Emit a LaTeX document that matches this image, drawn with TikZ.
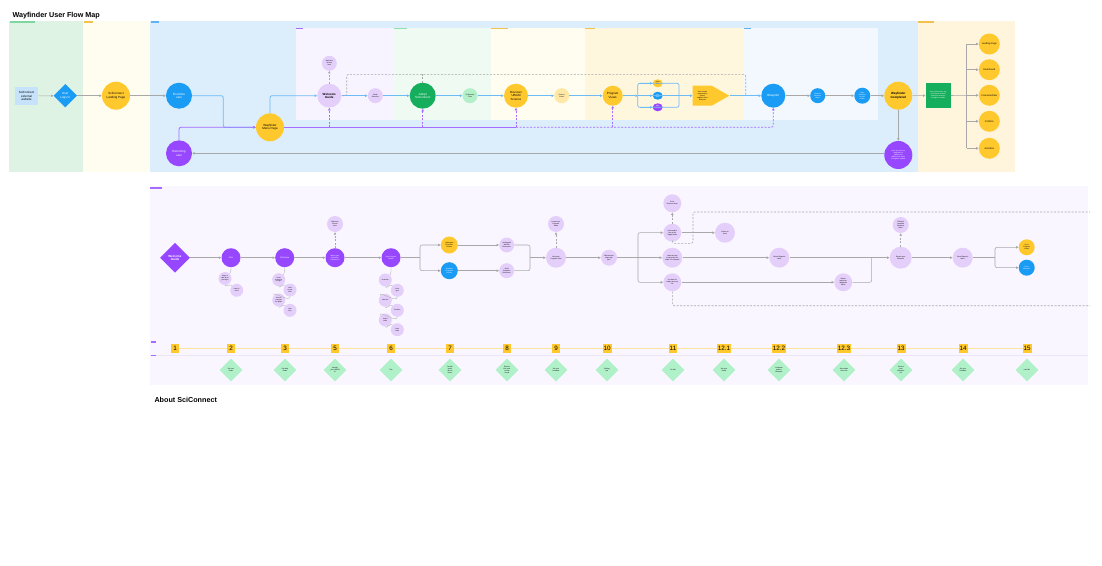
\documentclass[tikz,border=0pt]{standalone}
\usepackage{fontspec}
\setmainfont{Liberation Sans}
\usetikzlibrary{arrows.meta,shapes.geometric,shapes.symbols}
\definecolor{lgreen}{HTML}{DFF3E5}
\definecolor{lyellow}{HTML}{FFFDF0}
\definecolor{lblue}{HTML}{DCEEFC}
\definecolor{lorange}{HTML}{FFF5DC}
\definecolor{lav}{HTML}{F8F4FF}
\definecolor{mintbg}{HTML}{EEFAF2}
\definecolor{ylbg}{HTML}{FFFDF0}
\definecolor{orbg}{HTML}{FFF6DE}
\definecolor{wbbg}{HTML}{F2F8FE}
\definecolor{botbg}{HTML}{F9F6FF}
\definecolor{cyellow}{HTML}{FFC92E}
\definecolor{cblue}{HTML}{1A9CF5}
\definecolor{cpurple}{HTML}{9747FF}
\definecolor{clav}{HTML}{E4CFFB}
\definecolor{cgreen}{HTML}{14AE5C}
\definecolor{cmint}{HTML}{B3EFC9}
\definecolor{cly}{HTML}{FFE8A6}
\definecolor{boxblue}{HTML}{C6E3FB}
\definecolor{lineblue}{HTML}{6DBBF5}
\definecolor{linegray}{HTML}{A8A8A8}
\definecolor{linepurple}{HTML}{A66BFF}
\definecolor{tline}{HTML}{FFE4A0}
\definecolor{dgreen}{HTML}{B0F1C9}
\definecolor{sepc}{HTML}{EDE5F8}
\definecolor{taggreen}{HTML}{7ED6A0}
\definecolor{tagyellow}{HTML}{F2C14E}
\definecolor{tagblue}{HTML}{5DB3F5}
\definecolor{tagpurple}{HTML}{A66BFF}
\definecolor{tagmint}{HTML}{8FE0AE}
\tikzset{
  lbl/.style={font=\fontsize{3}{3.5}\selectfont, align=center, text=black},
  lblw/.style={font=\fontsize{3}{3.5}\selectfont, align=center, text=white},
  tny/.style={font=\fontsize{1.7}{2}\selectfont, align=center},
  circ/.style={circle, inner sep=0pt, minimum size=#1},
  tipA/.style={-{Triangle[length=2.4pt,width=2.4pt]}},
  gln/.style={draw=linegray, line width=0.55pt},
  bln/.style={draw=lineblue, line width=0.8pt},
  pln/.style={draw=linepurple, line width=0.8pt},
  gdsh/.style={draw=linegray, line width=0.6pt, dash pattern=on 2pt off 1.5pt},
  pdsh/.style={draw=linepurple, line width=0.7pt, dash pattern=on 2pt off 1.5pt},
  numbox/.style={fill=cyellow, font=\fontsize{6.3}{7}\selectfont, inner sep=1pt, minimum height=8.6pt, minimum width=8.6pt},
  gdia/.style={diamond, fill=dgreen, inner sep=0pt, minimum size=23pt, font=\fontsize{1.7}{2}\selectfont, align=center},
  subc/.style={circle, fill=clav, inner sep=0pt, minimum size=13pt, font=\fontsize{1.6}{1.9}\selectfont, align=center},
  bigt/.style={font=\bfseries\fontsize{7.2}{8}\selectfont, anchor=west},
}
\begin{document}
\begin{tikzpicture}[x=1pt,y=-1pt]
\fill[white] (0,0) rectangle (1102,565);
\useasboundingbox (0,0) rectangle (1102,565);

\node[bigt] (title) at (9,15.7) {Wayfinder User Flow Map};

% ---------- top lanes
\fill[lgreen] (9,21) rectangle (83,171.5);
\fill[lyellow] (83,21) rectangle (150,171.5);
\fill[lblue] (150,21) rectangle (918,171.5);
\fill[lorange] (918,21) rectangle (1015,171.5);
\fill[lav] (296,27.5) rectangle (394,119.5);
\fill[mintbg] (394,27.5) rectangle (491,119.5);
\fill[ylbg] (491,27.5) rectangle (585,119.5);
\fill[orbg] (585,27.5) rectangle (744,119.5);
\fill[wbbg] (744,27.5) rectangle (878,119.5);
% tags
\fill[taggreen] (10,21.4) rectangle (35,23);
\fill[tagyellow] (84,21.4) rectangle (93,23);
\fill[tagblue] (151,21.4) rectangle (159,23);
\fill[tagpurple] (296,27.8) rectangle (303,29.4);
\fill[tagmint] (394,27.8) rectangle (407,29.4);
\fill[tagyellow] (491,27.8) rectangle (508,29.4);
\fill[tagyellow] (585,27.8) rectangle (595,29.4);
\fill[tagblue] (744,27.8) rectangle (751,29.4);
\fill[tagyellow] (918,21.4) rectangle (934,23);

% ---------- top nodes
\node[fill=boxblue, minimum width=23.6pt, minimum height=18.3pt, inner sep=0pt, lbl] (ext) at (26.5,96) {SciConnect\\external\\website};
\node[diamond, fill=cblue, minimum size=23.5pt, inner sep=0pt, lblw] (login) at (65.3,95.7) {User\\Logs In};
\node[circ=28pt, fill=cyellow, lbl] (landing) at (116,95.7) {SciConnect\\Landing Page};
\node[circ=26pt, fill=cblue, lblw] (first) at (179,95.7) {First time\\user};
\node[circ=26pt, fill=cpurple, lblw] (ret) at (179,153.3) {Returning\\user};
\node[circ=28pt, fill=cyellow, lbl] (menu) at (270,127.3) {Wayfinder\\Menu Page};
\node[circ=24pt, fill=clav, lbl, font=\bfseries\fontsize{3}{3.5}\selectfont] (wg) at (329.3,95.7) {Welcome\\Guide};
\node[circ=15pt, fill=clav, tny] (wgup) at (329.3,63.3) {Welcome\\Screen\\Intro};
\node[circ=15pt, fill=clav, tny] (s1) at (375.3,95.7) {Guide\\Overview};
\node[circ=26pt, fill=cgreen, lblw] (adopt) at (422.7,95.7) {Adopt\\SciConnect};
\node[circ=15pt, fill=cmint, tny] (s2) at (470,95.7) {SciConnect\\Tools};
\node[circ=24pt, fill=cyellow, lbl] (disc) at (516,95.7) {Discover\\UBGM\\Science};
\node[circ=15pt, fill=cly, tny] (s3) at (561.7,95.7) {Science\\Areas};
\node[circ=20pt, fill=cyellow, lbl] (prog) at (612.7,95.7) {Program\\Views};
\node[ellipse, fill=cyellow, minimum width=10pt, minimum height=8pt, inner sep=0pt, tny] (o1) at (657.7,83.3) {Area\\View};
\node[ellipse, fill=cblue, minimum width=10pt, minimum height=8pt, inner sep=0pt, tny, text=white] (o2) at (657.7,95.7) {List\\View};
\node[ellipse, fill=cpurple, minimum width=10pt, minimum height=8pt, inner sep=0pt, tny, text=white] (o3) at (657.7,107.3) {Map\\View};
% arrow-shaped selection node
\fill[cyellow] (692.7,85.7) -- (711.7,85.7) -- (729.3,95.7) -- (711.7,105.7) -- (692.7,105.7) -- cycle;
\node[minimum width=36.6pt, minimum height=20pt, inner sep=0pt] (sel) at (711,95.7) {};
\node[tny, anchor=center] (selt) at (702.5,95.7) {User selects\\opportunities\\(tasks)\\added to their\\Blueprint};
\node[circ=24pt, fill=cblue, lblw] (wiz) at (773.3,95.7) {Blueprint};
\node[circ=15pt, fill=cblue, tny, text=white] (b1) at (817.7,95.7) {Review\\Blueprint\\tasks};
\node[circ=16pt, fill=cblue, tny, text=white] (b2) at (862.3,95.7) {Save\\Blueprint\\to your\\profile};
\node[circ=28pt, fill=cyellow, lbl, font=\bfseries\fontsize{3}{3.5}\selectfont] (comp) at (898.3,95.7) {Wayfinder\\Completed};
\node[circ=28pt, fill=cpurple, tny, text=white] (cp) at (898.3,155) {User can return to\\Wayfinder to\\update and\\add/remove tasks\\throughout module};
\node[fill=cgreen, minimum width=25pt, minimum height=24.4pt, inner sep=0pt, tny, text=white] (gbox) at (938.2,95.5) {User redirected to any\\SciConnect location\\based on selection\\throughout module};
\foreach \yy/\tt [count=\i] in {44/Landing Page,69.7/Dashboard,95.3/Connected Bar,121.3/Portfolio,148.3/Activities}{
  \node[circ=21pt, fill=cyellow, font=\fontsize{2.4}{2.8}\selectfont] (r\i) at (989.3,\yy) {\tt};
}

% ---------- top connectors
\draw[gln, tipA] (ext) -- (login);
\draw[gln, tipA] (login) -- (landing);
\draw[gln, tipA] (landing) -- (first);
\draw[bln, tipA, rounded corners=2pt] (first.east) -- (223.3,95.7) -- (223.3,127.3) -- (menu.west);
\draw[pln, tipA, rounded corners=2pt] (ret.north) |- (menu.west);
\draw[bln, tipA, rounded corners=2pt] (menu.north) |- (wg.west);
\draw[bln, tipA] (wg) -- (s1);
\draw[bln, tipA] (s1) -- (adopt);
\draw[bln, tipA] (adopt) -- (s2);
\draw[bln, tipA] (s2) -- (disc);
\draw[bln, tipA] (disc) -- (s3);
\draw[bln, tipA] (s3) -- (prog);
\coordinate (brl) at (637.7,95.7);
\coordinate (brr) at (679,95.7);
\draw[bln, tipA] (prog) -- (brl);
\draw[draw=lineblue, line width=0.7pt, rounded corners=2pt] (637.7,83.3) rectangle (679,107.3);
\draw[draw=lineblue, line width=0.7pt] (brl) -- (brr);
\draw[draw=lineblue, line width=0.5pt, tipA] (640,83.3) -- (o1.west);
\draw[draw=lineblue, line width=0.5pt, tipA] (640,95.7) -- (o2.west);
\draw[draw=lineblue, line width=0.5pt, tipA] (640,107.3) -- (o3.west);
\draw[bln, tipA] (brr) -- (sel.west);
\draw[bln, tipA] (sel.east) -- (wiz);
\draw[gln, tipA] (wiz) -- (b1);
\draw[gln, tipA] (b1) -- (b2);
\draw[gln, tipA] (b2) -- (comp);
\draw[gln, tipA] (comp) -- (gbox);
\draw[gln, tipA] (comp) -- (cp);
\draw[gln, tipA] (cp.west |- ret.east) -- (ret.east);
% purple return line
\coordinate (pv1) at (329.3,127.3);
\coordinate (pv2) at (422.7,127.3);
\coordinate (pv3) at (516,127.3);
\coordinate (pv4) at (612.7,127.3);
\draw[pln] (menu.east) -- (pv3);
\draw[pdsh, tipA, rounded corners=2pt] (pv3) -| (wiz.south);
\draw[pdsh, tipA] (pv1) -- (wg.south);
\draw[pdsh, tipA] (pv2) -- (adopt.south);
\draw[pdsh, tipA] (pv3) -- (disc.south);
\draw[pdsh, tipA] (pv4) -- (prog.south);
% gray dashed loop
\draw[gdsh, tipA] (wg.north) -- (wgup.south);
\draw[gdsh, rounded corners=2pt] (wg.east) -- (346.7,95.7) -- (346.7,74.3) -- (745.7,74.3) -- (745.7,94.5);
\draw[gdsh] (adopt.north) -- (422.7,74.3);
% right branch
\coordinate (gj) at (966.7,95.3);
\draw[gln] (gbox.east) -- (gj);
\draw[gln, rounded corners=2pt] (r1.west -| gj) -- (r5.west -| gj);
\foreach \i in {1,...,5}{\draw[gln, tipA, rounded corners=2pt] (r\i.west -| gj) -- (r\i.west);}

% ---------- bottom section
\fill[botbg] (150,185.5) rectangle (1088,385);
\fill[tagpurple] (150,187.3) rectangle (162,188.9);
\draw[sepc, line width=0.5pt] (150,355.6) -- (1088,355.6);
\fill[tagpurple] (150.5,341.2) rectangle (156,342.6);
\fill[tagpurple] (150.5,355) rectangle (156,356.4);

\node[diamond, fill=cpurple, minimum size=30pt, inner sep=0pt, lblw, font=\bfseries\fontsize{3}{3.5}\selectfont] (bwg) at (175,257.7) {Welcome\\Guide};
\node[circ=19pt, fill=cpurple, lblw, font=\fontsize{2.2}{2.6}\selectfont] (n2) at (231,257.7) {Intro};
\node[circ=19pt, fill=cpurple, lblw, font=\fontsize{2.2}{2.6}\selectfont] (n3) at (284.7,257.7) {Overview};
\node[circ=19pt, fill=cpurple, tny, text=white] (n5) at (335,257.7) {What's your\\Wayfinder\\Framework?};
\node[circ=16pt, fill=clav, tny] (n5u) at (335,224) {Welcome\\Screen\\Intro};
\node[circ=19pt, fill=cpurple, tny, text=white] (n6) at (391,257.7) {Start Program\\Builder};
\node[subc] (a1) at (225,278.5) {Steps to\\take when\\you begin};
\node[subc] (a2) at (236.7,290.3) {Keep in\\mind};
\node[subc] (c1) at (278.7,279.7) {Some\\resources\\to begin};
\node[subc] (c2) at (290,290) {Links\\to your\\tools};
\node[subc] (c3) at (278.7,300) {How to\\navigate\\the guide};
\node[subc] (c4) at (290,310.3) {Next\\step};
\node[subc] (d1) at (385.3,280) {Overview};
\node[subc] (d2) at (397.3,290.3) {Set a\\goal};
\node[subc] (d3) at (385.3,300.3) {Add info};
\node[subc] (d4) at (397.3,310.3) {Priorities};
\node[subc] (d5) at (385.3,320) {Select\\tasks};
\node[subc] (d6) at (397.3,329.7) {Save\\tasks};
\node[circ=17pt, fill=cyellow, tny] (n7y) at (449.3,245) {Undergrad\\Research\\Centers};
\node[circ=17pt, fill=cblue, tny, text=white] (n7b) at (449.3,270.7) {Graduate\\Programs\\Centers};
\node[circ=15pt, fill=clav, tny] (n8a) at (506.7,245) {Undergrad\\Wet lab\\Resources};
\node[circ=15pt, fill=clav, tny] (n8b) at (506.7,270.7) {Grad\\Programs\\Resources};
\node[circ=20pt, fill=clav, tny] (n9) at (556,257.7) {Next step\\Program View};
\node[circ=16pt, fill=clav, tny] (n9u) at (556,224) {Learn more\\Program\\Views};
\node[circ=16pt, fill=clav, tny] (n10) at (609,257.7) {Which areas\\align with\\you?};
\node[circ=18pt, fill=clav, tny] (n11a) at (672.3,232.7) {I still need to\\look at the\\Stage Areas};
\node[circ=18pt, fill=clav, tny] (n11u) at (672.3,203.3) {Go to\\Discover Area};
\node[circ=20pt, fill=clav, tny] (n11b) at (672.3,257.7) {I want to keep\\moving with the\\tasks I've selected};
\node[circ=18pt, fill=clav, tny] (n11c) at (672.3,282.3) {I'm done for\\today, save my\\list};
\node[circ=20pt, fill=clav, tny] (n12a) at (725,232.7) {Select an\\Area};
\node[circ=20pt, fill=clav, tny] (n12b) at (779.3,257.7) {Select Blueprint\\tasks};
\node[circ=18pt, fill=clav, tny] (n12c) at (843.3,282.3) {Return\\later from\\Wayfinder\\Menu};
\node[circ=22pt, fill=clav, tny] (n13) at (900.7,257.7) {Review your\\Blueprint};
\node[circ=16pt, fill=clav, tny] (n13u) at (900.7,225) {Edit and\\complete\\Blueprint\\tasks};
\node[circ=20pt, fill=clav, tny] (n14) at (962.7,257.7) {Save Blueprint\\tasks};
\node[circ=16pt, fill=cyellow, tny] (n15y) at (1026.7,247.3) {Go to\\Program\\Views};
\node[circ=16pt, fill=cblue, tny, text=white] (n15b) at (1026.7,267.7) {Go to\\Blueprint};

% bottom connectors
\draw[gln, tipA] (bwg) -- (n2);
\draw[gln, tipA] (n2) -- (n3);
\draw[gln, tipA] (n3) -- (n5);
\draw[gln, tipA] (n5) -- (n6);
\draw[gdsh, tipA] (n5) -- (n5u);
\foreach \p/\q in {n2/a1,n3/c1,n6/d1}{\draw[draw=linegray, line width=0.3pt] (\p.south) to[out=-90,in=60] (\q.north east);}
\foreach \p/\q in {a1/a2,c1/c2,c2/c3,c3/c4,d1/d2,d2/d3,d3/d4,d4/d5,d5/d6}{\draw[draw=linegray, line width=0.3pt] (\p.south) to[out=-90,in=120] (\q.north west);}
\coordinate (j6) at (420,257.7);
\draw[gln] (n6) -- (j6);
\draw[gln, tipA, rounded corners=2pt] (j6) |- (n7y);
\draw[gln, tipA, rounded corners=2pt] (j6) |- (n7b);
\draw[gln, tipA] (n7y) -- (n8a);
\draw[gln, tipA] (n7b) -- (n8b);
\coordinate (j8) at (530,257.7);
\draw[gln, rounded corners=2pt] (n8a) -| (j8);
\draw[gln, rounded corners=2pt] (n8b) -| (j8);
\draw[gln, tipA] (j8) -- (n9);
\draw[gdsh, tipA] (n9) -- (n9u);
\draw[gln, tipA] (n9) -- (n10);
\coordinate (j10) at (638,257.7);
\draw[gln] (n10) -- (j10);
\draw[gln, tipA, rounded corners=2pt] (j10) |- (n11a);
\draw[gln, tipA] (j10) -- (n11b);
\draw[gln, tipA, rounded corners=2pt] (j10) |- (n11c);
\draw[gdsh, tipA] (n11a) -- (n11u);
\draw[gln, tipA] (n11a) -- (n12a);
\draw[gln, tipA] (n11b) -- (n12b);
\draw[gln, tipA] (n11c) -- (n12c);
\coordinate (j12) at (871.7,257.7);
\draw[gln] (n12b) -- (j12);
\draw[gln, rounded corners=2pt] (n12c) -| (j12);
\draw[gln, tipA] (j12) -- (n13);
\draw[gdsh, tipA] (n13) -- (n13u);
\draw[gln, tipA] (n13) -- (n14);
\coordinate (j14) at (995,257.7);
\draw[gln] (n14) -- (j14);
\draw[gln, tipA, rounded corners=2pt] (j14) |- (n15y);
\draw[gln, tipA, rounded corners=2pt] (j14) |- (n15b);
\coordinate (dtop) at (1090,212);
\coordinate (dbot) at (1090,305.7);
\draw[gdsh, rounded corners=2pt] (n11a.south) -- (672.3,243.3) -- (693,243.3) -- (693,212) -- (dtop);
\draw[gdsh, rounded corners=2pt] (n11c.south) -- (672.3,305.7) -- (dbot);

% timeline
\draw[tline, line width=1pt] (175,348.3) -- (1027,348.3);
\foreach \xx/\tt [count=\i] in {175/1,231/2,285/3,335/5,391/6,450/7,507/8,556/9,607/10,673/11,724/12.1,779/12.2,844/12.3,901/13,963/14,1027/15}{
  \node[numbox] (num\i) at (\xx,348.3) {\tt};
}
\foreach \xx/\tt [count=\i] in {231/Set user\\Goals,285/Set daily\\Goals,335/Identify\\your UBGM\\fit,391/Tips,450/Decide\\goals\\across\\terms,507/Review\\first-year\\course\\needs,556/Set your\\schedule,607/Ending\\tips,673/Go Mix,724/Set your\\Goals,779/Complete\\tasks in\\Blueprint,844/Save tasks\\to the list,901/Review\\your\\Blueprint\\list,963/Set your\\Deadline,1027/Last Mix}{
  \node[gdia] (dia\i) at (\xx,370) {\tt};
}

\node[bigt] (about) at (151,400.3) {About SciConnect};
\end{tikzpicture}
\end{document}
